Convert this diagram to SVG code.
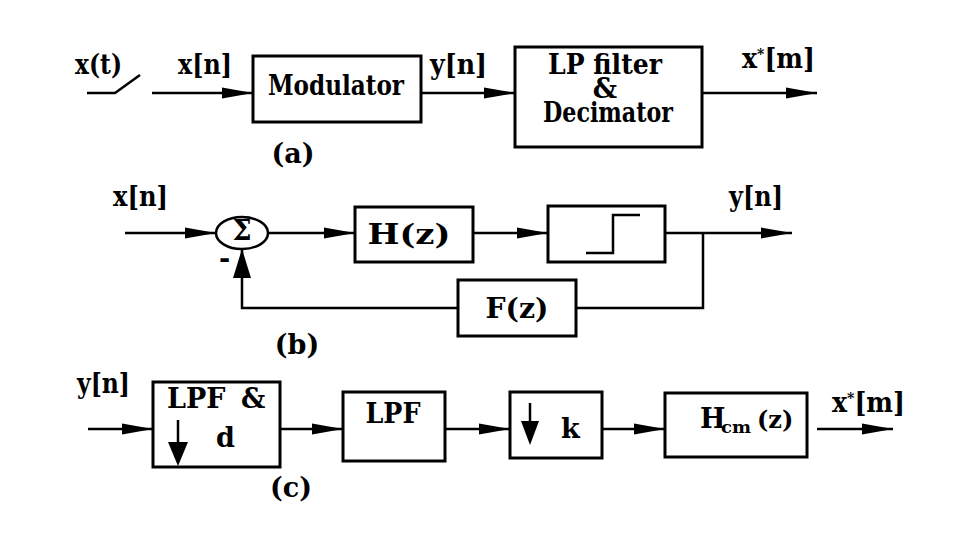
<svg xmlns="http://www.w3.org/2000/svg" width="969" height="542" viewBox="0 0 969 542" font-family="DejaVu Serif, serif" font-weight="bold">
<style>
.box{fill:none;stroke:#000;stroke-width:3}
.ln{fill:none;stroke:#000;stroke-width:2.5}
text{fill:#000;font-size:27px}
.c{text-anchor:middle}
</style>
<defs>
<marker id="ah" markerWidth="31" markerHeight="12" refX="31" refY="6" orient="auto" markerUnits="userSpaceOnUse"><path d="M0,0.5 L31,6 L0,11.5 Z" fill="#000"/></marker>
<marker id="av" markerWidth="29" markerHeight="18" refX="29" refY="9" orient="auto" markerUnits="userSpaceOnUse"><path d="M0,0 L29,9 L0,18 Z" fill="#000"/></marker>
</defs>
<rect width="969" height="542" fill="#fff"/>

<g id="connectors">
<polyline class="ln" points="87,93 115,93 140,75"/>
<line class="ln" x1="152" y1="93" x2="253" y2="93" marker-end="url(#ah)"/>
<line class="ln" x1="421" y1="93" x2="515" y2="93" marker-end="url(#ah)"/>
<line class="ln" x1="702" y1="93" x2="817" y2="93" marker-end="url(#ah)"/>

<line class="ln" x1="125" y1="233" x2="216" y2="233" marker-end="url(#ah)"/>
<line class="ln" x1="268" y1="233" x2="355" y2="233" marker-end="url(#ah)"/>
<line class="ln" x1="473" y1="233" x2="548" y2="233" marker-end="url(#ah)"/>
<line class="ln" x1="665" y1="233" x2="792" y2="233" marker-end="url(#ah)"/>
<polyline class="ln" points="703,233 703,308 576,308"/>
<polyline class="ln" points="458,308 242,308 242,249" marker-end="url(#av)"/>

<line class="ln" x1="88" y1="429" x2="153" y2="429" marker-end="url(#ah)"/>
<line class="ln" x1="280" y1="429" x2="343" y2="429" marker-end="url(#ah)"/>
<line class="ln" x1="445" y1="429" x2="510" y2="429" marker-end="url(#ah)"/>
<line class="ln" x1="602" y1="429" x2="665" y2="429" marker-end="url(#ah)"/>
<line class="ln" x1="817" y1="429" x2="893" y2="429" marker-end="url(#ah)"/>
</g>

<g id="labels">
<text x="75" y="74" font-size="23" textLength="47" lengthAdjust="spacingAndGlyphs">x(t)</text>
<text x="178" y="74" font-size="23" textLength="54" lengthAdjust="spacingAndGlyphs">x[n]</text>
<text x="430" y="74" font-size="23" textLength="57" lengthAdjust="spacingAndGlyphs">y[n]</text>
<text x="742" y="68" font-size="23" textLength="73" lengthAdjust="spacingAndGlyphs">x<tspan dy="-9" font-size="15">*</tspan><tspan dy="9">[m]</tspan></text>
<text class="c" x="293" y="163" font-size="21">(a)</text>

<text x="113" y="206" font-size="23" textLength="55" lengthAdjust="spacingAndGlyphs">x[n]</text>
<text x="729" y="206" font-size="23" textLength="54" lengthAdjust="spacingAndGlyphs">y[n]</text>
<text x="219" y="268" font-size="22">-</text>
<text class="c" x="297" y="354" font-size="21">(b)</text>

<text x="77" y="393" font-size="23" textLength="53" lengthAdjust="spacingAndGlyphs">y[n]</text>
<text x="832" y="412" font-size="23" textLength="73" lengthAdjust="spacingAndGlyphs">x<tspan dy="-9" font-size="15">*</tspan><tspan dy="9">[m]</tspan></text>
<text class="c" x="291" y="497" font-size="21">(c)</text>
</g>

<g id="modulator">
<rect class="box" x="253" y="56" width="168" height="66"/>
<text class="c" x="336" y="95" font-size="24" textLength="136" lengthAdjust="spacingAndGlyphs">Modulator</text>
</g>

<g id="lpdec">
<rect class="box" x="515" y="47" width="187" height="100"/>
<text class="c" x="605" y="74" font-size="20" textLength="114" lengthAdjust="spacingAndGlyphs">LP filter</text>
<text class="c" x="605" y="98" font-size="20">&amp;</text>
<text class="c" x="608" y="122" font-size="20" textLength="130" lengthAdjust="spacingAndGlyphs">Decimator</text>
</g>

<g id="sum">
<ellipse cx="242" cy="233" rx="26" ry="16" fill="none" stroke="#000" stroke-width="2.5"/>
<text class="c" x="242" y="240" font-size="18">Σ</text>
</g>

<g id="hz">
<rect class="box" x="355" y="207" width="118" height="55"/>
<text class="c" x="409" y="244" font-size="26" textLength="83" lengthAdjust="spacingAndGlyphs">H(z)</text>
</g>

<g id="quantizer">
<rect class="box" x="548" y="206" width="117" height="56"/>
<polyline class="ln" points="586,253 613,253 613,215 640,215"/>
</g>

<g id="fz">
<rect class="box" x="458" y="280" width="118" height="56"/>
<text class="c" x="517" y="318" font-size="26" textLength="63" lengthAdjust="spacingAndGlyphs">F(z)</text>
</g>

<g id="lpfd">
<rect class="box" x="153" y="382" width="127" height="85"/>
<text x="167" y="408" font-size="22">LPF<tspan x="241">&amp;</tspan></text>
<text x="216" y="447" font-size="26">d</text>
<line class="ln" x1="178" y1="420" x2="178" y2="446"/>
<polygon points="168,442 188,442 178,466" fill="#000"/>
</g>

<g id="lpf">
<rect class="box" x="343" y="392" width="102" height="69"/>
<text class="c" x="393" y="423" font-size="23" textLength="55" lengthAdjust="spacingAndGlyphs">LPF</text>
</g>

<g id="downk">
<rect class="box" x="510" y="392" width="92" height="66"/>
<line class="ln" x1="530" y1="403" x2="530" y2="425"/>
<polygon points="521,421 539,421 530,445" fill="#000"/>
<text x="561" y="438" font-size="26">k</text>
</g>

<g id="hcm">
<rect class="box" x="665" y="393" width="142" height="64"/>
<text x="700" y="428" font-size="21">H<tspan font-size="16" dy="5" x="721" textLength="30" lengthAdjust="spacingAndGlyphs">cm</tspan><tspan dy="-5" font-size="24" x="757">(z)</tspan></text>
</g>
</svg>
